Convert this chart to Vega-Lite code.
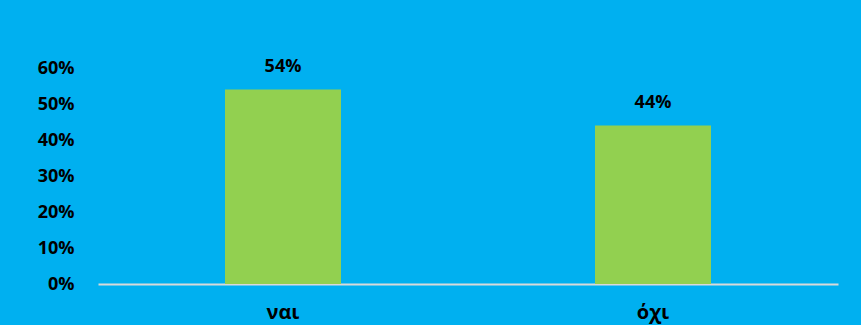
{
  "$schema": "https://vega.github.io/schema/vega-lite/v6.json",
  "autosize": {"type": "none"},
  "width": 740,
  "height": 216,
  "padding": {"left": 98, "top": 68, "right": 23, "bottom": 41},
  "background": "#00B0F0",
  "data": {"values": [
    {"answer": "ναι", "share": 0.54},
    {"answer": "όχι", "share": 0.44}
  ]},
  "config": {
    "view": {"stroke": null},
    "font": "Open Sans",
    "axis": {"labelFont": "Open Sans", "labelFontWeight": "bold", "labelColor": "#000000", "labelFontSize": 18}
  },
  "encoding": {
    "x": {
      "field": "answer", "type": "nominal", "sort": null,
      "scale": {"paddingInner": 0, "paddingOuter": 0},
      "axis": {"title": null, "labelAngle": 0, "ticks": false, "domainColor": "#D9D9D9", "domainWidth": 2, "labelBaseline": "alphabetic", "labelPadding": 34, "labelFontSize": 20}
    },
    "y": {
      "field": "share", "type": "quantitative",
      "scale": {"domain": [0, 0.6]},
      "axis": {"title": null, "format": ".0%", "values": [0, 0.1, 0.2, 0.3, 0.4, 0.5, 0.6], "grid": false, "domain": false, "ticks": false, "labelPadding": 24}
    }
  },
  "layer": [
    {"mark": {"type": "bar", "size": 116, "color": "#92D050"}},
    {"mark": {"type": "text", "baseline": "alphabetic", "dy": -18, "font": "Open Sans", "fontWeight": "bold", "fontSize": 18, "color": "#000000"},
     "encoding": {"text": {"field": "share", "type": "quantitative", "format": ".0%"}}}
  ]
}
